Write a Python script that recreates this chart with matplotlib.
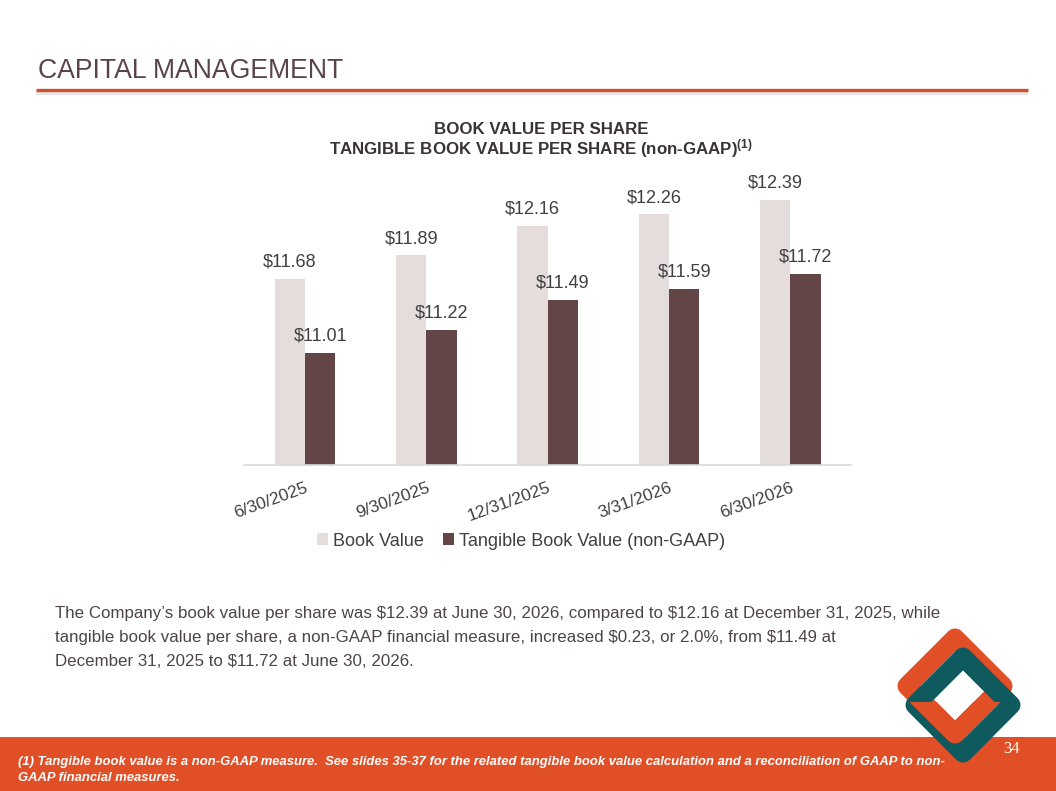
import numpy as np
import matplotlib.pyplot as plt
from matplotlib.patches import Polygon, Rectangle

plt.rcParams['font.family'] = ['Liberation Sans', 'DejaVu Sans']
plt.rcParams['mathtext.fontset'] = 'custom'
plt.rcParams['mathtext.bf'] = 'Liberation Sans:bold'
plt.rcParams['mathtext.rm'] = 'Liberation Sans'
plt.rcParams['mathtext.default'] = 'bf'

# data
periods = ['6/30/2025', '9/30/2025', '12/31/2025', '3/31/2026', '6/30/2026']
book_value = [11.68, 11.89, 12.16, 12.26, 12.39]
tangible_book_value = [11.01, 11.22, 11.49, 11.59, 11.72]
series_names = ['Book Value', 'Tangible Book Value (non-GAAP)']

BV_COLOR = '#E5DCDC'
TBV_COLOR = '#634547'
TEXT_DARK = '#404040'
ORANGE = '#E14F27'
TEAL = '#0E5A5E'

W, H = 1056, 791
fig = plt.figure(figsize=(W / 100, H / 100), dpi=100)


def fx(px):
    return px / W


def fy(py):
    return 1 - py / H


# background layer in pixel coords (title rule, footer band, logo)
bg = fig.add_axes([0, 0, 1, 1], zorder=0)
bg.set_xlim(0, W)
bg.set_ylim(H, 0)
bg.axis('off')
bg.plot([36, 1028], [93, 93], color='#E6E6E6', lw=3, solid_capstyle='butt')
bg.plot([36, 1028], [90, 90], color='#D0502A', lw=2.4, solid_capstyle='butt')
bg.add_patch(Rectangle((0, 737), W, 54, color=ORANGE, lw=0))


def ring(cx, cy, h, color, clip=None):
    pts = [(cx, cy - h), (cx + h, cy), (cx, cy + h), (cx - h, cy)]
    p = Polygon(pts, closed=True, fill=False, edgecolor=color, lw=13.7,
                joinstyle='round')
    bg.add_patch(p)
    if clip is not None:
        p.set_clip_path(clip)
    return p


ring(955, 686, 48, ORANGE)
ring(963, 705, 48, TEAL)
clip_rect = Rectangle((870, 702), 180, 90, transform=bg.transData)
ring(955, 686, 48, ORANGE, clip=clip_rect)

# bar chart
ax = fig.add_axes([0.2315, 0.4121, 0.5743, 0.3645], zorder=1)
ax.patch.set_alpha(0)
x = np.arange(len(periods))
bw = 0.25
bars1 = ax.bar(x - bw / 2, book_value, bw, color=BV_COLOR, label=series_names[0])
bars2 = ax.bar(x + bw / 2, tangible_book_value, bw, color=TBV_COLOR, label=series_names[1])
ax.set_ylim(10, 12.6)
ax.set_xlim(-0.5, len(periods) - 0.5)

for bars, vals in [(bars1, book_value), (bars2, tangible_book_value)]:
    for b, v in zip(bars, vals):
        ax.annotate(f'${v:.2f}', (b.get_x() + b.get_width() / 2, v),
                    xytext=(0, 6), textcoords='offset points',
                    ha='center', va='bottom', fontsize=13, color=TEXT_DARK)

for s in ['top', 'right', 'left']:
    ax.spines[s].set_visible(False)
ax.spines['bottom'].set_color('#D9D9D9')
ax.spines['bottom'].set_linewidth(1.2)
ax.set_yticks([])
ax.set_xticks(x, periods, rotation=20, ha='right', rotation_mode='anchor',
              fontsize=12.5, color=TEXT_DARK)
ax.tick_params(axis='x', length=0, pad=11)

fig.legend(handles=[bars1, bars2], labels=series_names, loc='center',
           bbox_to_anchor=(fx(521), fy(541)), ncol=2, frameon=False,
           fontsize=13, labelcolor=TEXT_DARK, handlelength=0.6,
           handleheight=0.6, handletextpad=0.25, columnspacing=1.1)

# titles
fig.text(fx(38), fy(78), 'CAPITAL MANAGEMENT', fontsize=19.2, color='#5A4447',
         va='baseline')
fig.text(fx(541), fy(134), 'BOOK VALUE PER SHARE', fontsize=12.2,
         fontweight='bold', color='#3A3333', ha='center', va='baseline')
fig.text(fx(541), fy(154), r'TANGIBLE BOOK VALUE PER SHARE (non-GAAP)$^{(1)}$',
         fontsize=12.2, fontweight='bold', color='#3A3333', ha='center',
         va='baseline')

body = [
    'The Company\u2019s book value per share was $12.39 at June 30, 2026, compared to $12.16 at December 31, 2025, while',
    'tangible book value per share, a non-GAAP financial measure, increased $0.23, or 2.0%, from $11.49 at',
    'December 31, 2025 to $11.72 at June 30, 2026.',
]
for i, line in enumerate(body):
    fig.text(fx(55), fy(618 + 24 * i), line.replace('$', r'\$'), fontsize=12.2,
             color='#4E4446', va='baseline')

footer = [
    '(1) Tangible book value is a non-GAAP measure.  See slides 35-37 for the related tangible book value calculation and a reconciliation of GAAP to non-',
    'GAAP financial measures.',
]
for i, line in enumerate(footer):
    fig.text(fx(18), fy(765 + 16 * i), line, fontsize=9.4, color='white',
             fontweight='bold', style='italic', va='baseline')
fig.text(fx(1020), fy(753), '34', fontsize=12, color='white',
         family='Liberation Serif', ha='right', va='baseline')

fig.savefig('out.png', dpi=100)
